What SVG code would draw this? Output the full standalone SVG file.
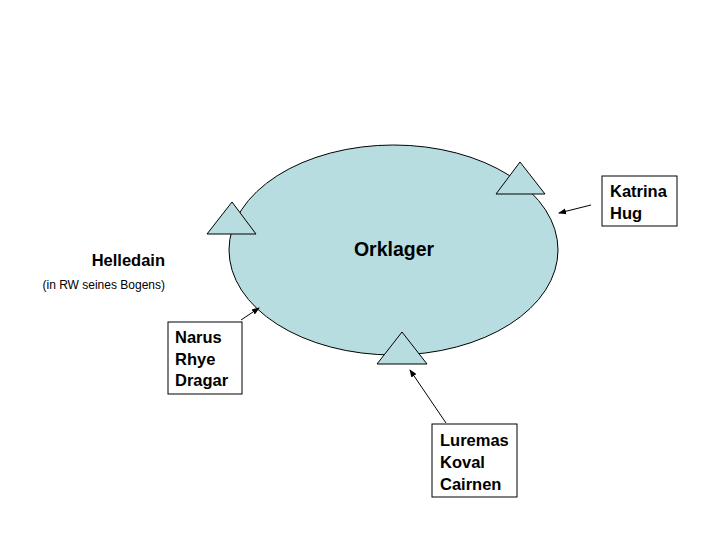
<svg xmlns="http://www.w3.org/2000/svg" width="720" height="540" viewBox="0 0 720 540">
<style>
text{font-family:"Liberation Sans",Arial,sans-serif;fill:#000}
.lbl{font-size:16.5px;font-weight:bold}
.box{fill:#fff;stroke:#000;stroke-width:1}
.tri{fill:#b8dde0;stroke:#000;stroke-width:1}
.conn line{stroke:#000;stroke-width:1}
</style>
<defs>
<marker id="ah" markerWidth="8" markerHeight="8" refX="7" refY="4" orient="auto" markerUnits="userSpaceOnUse">
<path d="M0,1 L8,4 L0,7 Z" fill="#000"/>
</marker>
</defs>
<rect width="720" height="540" fill="#fff"/>
<g id="orklager">
<ellipse cx="393.5" cy="250" rx="164.5" ry="105" fill="#b8dde0" stroke="#000" stroke-width="1"/>
<text x="394" y="256" font-size="19.5" font-weight="bold" text-anchor="middle">Orklager</text>
</g>
<g id="tri-left"><polygon class="tri" points="232,202 207,234 256,234"/></g>
<g id="tri-topright"><polygon class="tri" points="520,162 496,194 545,194"/></g>
<g id="tri-bottom"><polygon class="tri" points="402,332 377,364 427,364"/></g>
<g id="helledain">
<text class="lbl" x="165" y="266" text-anchor="end">Helledain</text>
<text x="165" y="289" font-size="12" text-anchor="end">(in RW seines Bogens)</text>
</g>
<g id="katrina">
<rect class="box" x="602" y="176" width="75" height="50"/>
<text class="lbl" x="610" y="197">Katrina</text>
<text class="lbl" x="610" y="219">Hug</text>
</g>
<g id="narus">
<rect class="box" x="168" y="322" width="74" height="72"/>
<text class="lbl" x="175" y="343">Narus</text>
<text class="lbl" x="175" y="365">Rhye</text>
<text class="lbl" x="175" y="386">Dragar</text>
</g>
<g id="luremas">
<rect class="box" x="432" y="424" width="85" height="73"/>
<text class="lbl" x="440" y="446">Luremas</text>
<text class="lbl" x="440" y="468">Koval</text>
<text class="lbl" x="440" y="490">Cairnen</text>
</g>
<g class="conn" id="connectors">
<line x1="591" y1="205" x2="559" y2="213" marker-end="url(#ah)"/>
<line x1="241" y1="320" x2="259" y2="308" marker-end="url(#ah)"/>
<line x1="446" y1="423" x2="410" y2="370" marker-end="url(#ah)"/>
</g>
</svg>
